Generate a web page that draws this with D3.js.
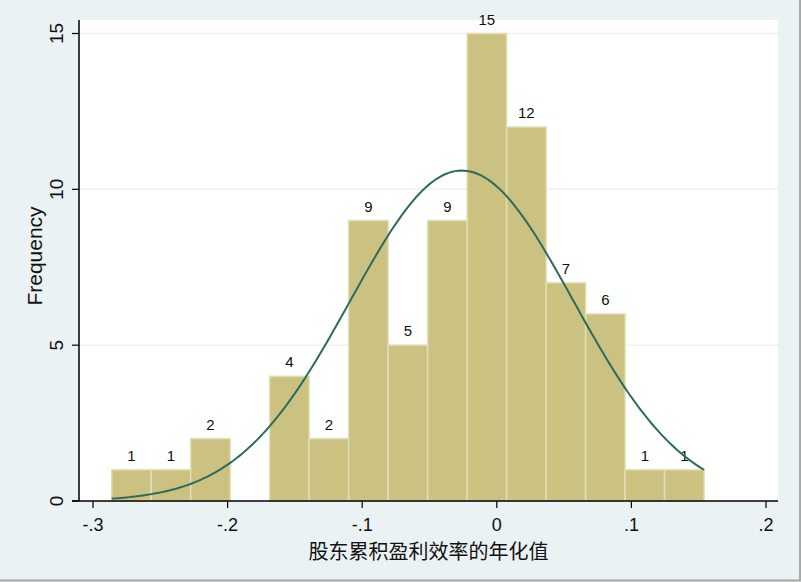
<!DOCTYPE html>
<html>
<head>
<meta charset="utf-8">
<script src="https://cdn.jsdelivr.net/npm/d3@7"></script>
<style>
  body { margin: 0; background: #eaf2f3; }
  svg { display: block; }
</style>
</head>
<body>
<div class="hist"></div>
<script>
/** histogram data */
const counts = [1, 1, 2, 0, 4, 2, 9, 5, 9, 15, 12, 7, 6, 1, 1];
const binStart = -0.2861;
const binWidth = 0.02934;
const xTicks = [-0.3, -0.2, -0.1, 0, 0.1, 0.2];
const xTickLabels = ['-.3', '-.2', '-.1', '0', '.1', '.2'];
const yTicks = [0, 5, 10, 15];
const yTickLabels = ['0', '5', '10', '15'];

/** fitted normal overlay */
const normMean = -0.026;
const normSd = 0.0828;

let width = 801, height = 582;
let svg = d3.select('.hist').append('svg')
    .attr('width', width)
    .attr('height', height);

// outer frame
svg.append('rect')
    .attr('width', width).attr('height', height)
    .attr('fill', '#eaf2f3');
svg.append('line').attr('x1', 0).attr('x2', width).attr('y1', 580.5).attr('y2', 580.5)
    .attr('stroke', '#a8a8a8').attr('stroke-width', 2);
svg.append('line').attr('x1', 800).attr('x2', 800).attr('y1', 0).attr('y2', 581)
    .attr('stroke', '#a8a8a8').attr('stroke-width', 2);

let x = d3.scaleLinear().domain([-0.3, 0.2]).range([93, 766]);
let y = d3.scaleLinear().domain([0, 15]).range([501, 33.5]);

let plotLeft = 79, plotRight = 778, plotTop = 20, plotBottom = 501;

// plot area
svg.append('rect')
    .attr('x', plotLeft).attr('y', plotTop)
    .attr('width', plotRight - plotLeft).attr('height', plotBottom - plotTop)
    .attr('fill', '#ffffff');

// gridlines
svg.selectAll('.grid')
    .data(yTicks.filter(d => d > 0))
    .enter().append('line')
    .attr('class', 'grid')
    .attr('x1', plotLeft).attr('x2', plotRight)
    .attr('y1', d => y(d)).attr('y2', d => y(d))
    .attr('stroke', '#eaf2f3').attr('stroke-width', 1.5);

// bars
let bins = counts.map((c, i) => ({ x0: binStart + i * binWidth, x1: binStart + (i + 1) * binWidth, n: c }));

svg.selectAll('.bar')
    .data(bins.filter(d => d.n > 0))
    .enter().append('rect')
    .attr('class', 'bar')
    .attr('x', d => x(d.x0))
    .attr('width', d => x(d.x1) - x(d.x0))
    .attr('y', d => y(d.n))
    .attr('height', d => y(0) - y(d.n))
    .attr('fill', '#cbc282')
    .attr('stroke', '#e2ddb4')
    .attr('stroke-width', 1.5);

// bar labels
svg.selectAll('.blabel')
    .data(bins.filter(d => d.n > 0))
    .enter().append('text')
    .attr('class', 'blabel')
    .attr('x', d => (x(d.x0) + x(d.x1)) / 2)
    .attr('y', d => y(d.n) - 9)
    .attr('text-anchor', 'middle')
    .style('font-family', 'Liberation Sans, Arial, sans-serif')
    .style('font-size', '15px')
    .attr('fill', '#111')
    .text(d => d.n);

// normal curve
let total = d3.sum(counts);
let xMin = binStart, xMax = binStart + counts.length * binWidth;
let curvePts = d3.range(0, 201).map(i => {
    let v = xMin + (xMax - xMin) * i / 200;
    let z = (v - normMean) / normSd;
    return [v, total * binWidth * Math.exp(-0.5 * z * z) / (normSd * Math.sqrt(2 * Math.PI))];
});
svg.append('path')
    .datum(curvePts)
    .attr('d', d3.line().x(d => x(d[0])).y(d => y(d[1])))
    .attr('fill', 'none')
    .attr('stroke', '#2e6b5c')
    .attr('stroke-width', 2);

// axes
svg.append('line')
    .attr('x1', plotLeft).attr('x2', plotLeft).attr('y1', plotTop).attr('y2', plotBottom)
    .attr('stroke', '#000').attr('stroke-width', 1.5);
svg.append('line')
    .attr('x1', plotLeft - 7).attr('x2', plotRight).attr('y1', plotBottom).attr('y2', plotBottom)
    .attr('stroke', '#000').attr('stroke-width', 1.5);

// y ticks
svg.selectAll('.ytick')
    .data(yTicks)
    .enter().append('line')
    .attr('x1', plotLeft - 7).attr('x2', plotLeft)
    .attr('y1', d => y(d)).attr('y2', d => y(d))
    .attr('stroke', '#000').attr('stroke-width', 1.2);
svg.selectAll('.ylabel')
    .data(yTicks)
    .enter().append('text')
    .attr('transform', d => `translate(63, ${y(d)}) rotate(-90)`)
    .attr('text-anchor', 'middle')
    .style('font-family', 'Liberation Sans, Arial, sans-serif')
    .style('font-size', '19px')
    .attr('fill', '#111')
    .text((d, i) => yTickLabels[i]);

// x ticks
svg.selectAll('.xtick')
    .data(xTicks)
    .enter().append('line')
    .attr('x1', d => x(d)).attr('x2', d => x(d))
    .attr('y1', plotBottom).attr('y2', plotBottom + 7)
    .attr('stroke', '#000').attr('stroke-width', 1.2);
svg.selectAll('.xlabel')
    .data(xTicks)
    .enter().append('text')
    .attr('x', d => x(d))
    .attr('y', 531)
    .attr('text-anchor', 'middle')
    .style('font-family', 'Liberation Sans, Arial, sans-serif')
    .style('font-size', '18px')
    .attr('fill', '#111')
    .text((d, i) => xTickLabels[i]);

// titles
svg.append('text')
    .attr('transform', 'translate(42, 256) rotate(-90)')
    .attr('text-anchor', 'middle')
    .style('font-family', 'Liberation Sans, Arial, sans-serif')
    .style('font-size', '21px')
    .attr('fill', '#111')
    .text('Frequency');

svg.append('text')
    .attr('x', (plotLeft + plotRight) / 2)
    .attr('y', 559)
    .attr('text-anchor', 'middle')
    .style('font-family', 'Noto Sans CJK SC, sans-serif')
    .style('font-size', '20px')
    .attr('fill', '#111')
    .text('股东累积盈利效率的年化值');
</script>
</body>
</html>
